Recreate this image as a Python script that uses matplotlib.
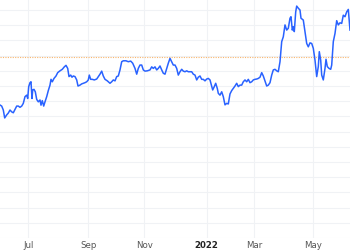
"""Price line, one year of daily closes (Jun 2021 - Jun 2022), TradingView-style minimal chart."""
import matplotlib
matplotlib.use("Agg")
import matplotlib.pyplot as plt

# x position of each sample (trading-day axis units) and its close
DAY = [0, 1.7, 3.3, 4.7, 6.7, 8.3, 10, 11.7, 13.3, 15, 16.7, 18.3, 20, 21.7, 23.3, 25, 26.7, 27.7,
       28.7, 30, 31, 32, 32.7, 34, 35.3, 36.7, 38.3, 40, 41, 42.3, 43.7, 45, 46.7, 48.3, 50, 51,
       52.3, 54, 56, 57.7, 60, 62.3, 64.3, 66, 67.7, 69, 70.7, 72, 73.3, 75, 76.7, 78, 80, 81.7,
       83.3, 85, 86.7, 88.3, 89.3, 90.7, 92.3, 94.3, 96.7, 98.3, 100, 101.7, 103.3, 105, 107.3,
       110, 111.7, 113.3, 115, 116.7, 118.3, 120, 121.7, 123.3, 126, 128.3, 130.7, 132.7, 135,
       136.7, 138.3, 140, 141.7, 143.3, 145, 147.3, 150, 151.7, 153.3, 155, 156.7, 158.3, 160,
       161.7, 163.3, 165, 166.7, 168.3, 170, 171.7, 173.3, 175, 176.7, 178.3, 180, 181.7, 183.3,
       185, 186.7, 188.3, 190, 191.7, 193.3, 195, 196.7, 198.3, 200, 201.7, 203.3, 205, 206.7,
       208.3, 210, 211.7, 212.7, 214, 215.7, 217.3, 218.3, 220, 221.7, 223.3, 225, 226.7, 228.3,
       230, 231.7, 233.3, 235, 236.7, 238.3, 240, 241.7, 243.3, 245, 246.7, 248.3, 250, 251.7,
       253.3, 255, 256.7, 258.3, 260, 261.7, 263.3, 265, 266.7, 268.3, 270, 271.7, 273.3, 275,
       276.7, 278.3, 280, 281.7, 283.3, 285, 286.7, 288.3, 290, 291, 292.3, 293.3, 294.3, 295.7,
       296.7, 298.3, 300, 301, 303.3, 305, 306.7, 308.3, 310, 311.7, 313.3, 315, 316.7, 318.3,
       319.3, 320.7, 321.7, 323.3, 325, 326, 327.3, 329, 330.7, 331.7, 333.3, 335, 336.7, 338.3,
       340, 341.7, 343.3, 345, 346.7, 348.3, 350]
CLOSE = [143.75, 143.4, 142.1, 139.5, 140.5, 141.1, 142.1, 141.5, 141.2, 142.3, 143.4, 143.4, 143.0,
         143.4, 144.3, 146.5, 147.0, 145.9, 149.8, 151.1, 151.4, 145.9, 148.7, 148.9, 148.1, 145.6,
         144.8, 145.4, 143.7, 145.2, 143.4, 144.8, 146.5, 148.5, 150.3, 152.2, 151.4, 152.5, 153.3,
         154.4, 155.0, 155.5, 156.3, 156.8, 155.8, 153.1, 153.6, 152.9, 153.3, 153.1, 152.0, 150.0,
         150.3, 150.7, 150.9, 151.1, 151.4, 152.0, 153.6, 152.2, 152.2, 152.0, 152.3, 153.1, 153.9,
         154.9, 153.3, 152.2, 151.7, 150.9, 151.4, 152.0, 151.7, 153.1, 153.3, 155.3, 158.0, 158.3,
         158.3, 158.0, 158.2, 157.5, 155.8, 153.9, 155.8, 156.9, 156.9, 155.3, 154.9, 155.0, 155.3,
         156.3, 155.8, 156.3, 155.3, 155.8, 156.6, 155.3, 154.2, 153.9, 155.8, 157.5, 159.1, 158.0,
         156.9, 156.9, 155.8, 153.6, 154.7, 155.5, 154.9, 154.7, 155.0, 154.7, 154.7, 154.7, 153.9,
         153.6, 152.0, 152.9, 153.3, 152.2, 152.2, 151.7, 152.3, 152.5, 152.0, 150.0, 148.7, 149.6,
         150.9, 149.2, 147.6, 147.0, 148.1, 146.5, 143.8, 144.3, 144.1, 147.4, 148.5, 149.2, 150.0,
         150.9, 149.8, 150.3, 150.3, 151.4, 152.0, 151.4, 152.2, 151.1, 151.4, 152.0, 152.2, 152.3,
         152.5, 152.9, 154.4, 153.3, 151.7, 150.0, 150.3, 151.1, 153.6, 155.3, 155.5, 155.0, 154.7,
         158.0, 164.6, 166.2, 170.1, 168.4, 169.0, 172.3, 172.8, 168.4, 169.5, 167.9, 174.4, 176.3,
         175.6, 175.0, 172.3, 171.7, 167.9, 164.0, 162.9, 164.2, 164.0, 162.4, 158.5, 153.1, 156.4,
         161.3, 158.5, 153.6, 152.0, 155.8, 158.8, 156.4, 155.8, 155.5, 156.9, 164.6, 167.3, 171.5,
         170.1, 170.8, 170.6, 173.3, 172.8, 174.4, 175.2, 168.4]
REF_LEVEL = 159.5          # dotted reference line
TICK_POS = [28.3, 88.3, 144.3, 206.7, 254.3, 313.3]
TICK_LABELS = ["Jul", "Sep", "Nov", "2022", "Mar", "May"]

fig = plt.figure(figsize=(3.5, 2.5), dpi=100)
ax = fig.add_axes([0, 0.048, 1, 0.952])

ax.plot(DAY, CLOSE, color="#2962ff", lw=1.1, solid_joinstyle="round", zorder=3)
ax.axhline(REF_LEVEL, color="#f9b56b", lw=0.8, ls=(0, (1, 1.2)), zorder=2)

ax.set_xlim(0, 350)
ax.set_ylim(100, 178.3)
ax.set_yticks(range(100, 180, 5))
ax.set_xticks(TICK_POS)
ax.set_xticklabels(TICK_LABELS)
ax.grid(True, color="#f0f2f5", lw=0.8)
ax.set_axisbelow(True)
ax.tick_params(axis="both", length=0, pad=2, labelsize=6.2, labelcolor="#555555")
ax.tick_params(axis="y", labelleft=False)
for lbl in ax.get_xticklabels():
    if lbl.get_text() == "2022":
        lbl.set_fontweight("bold")
        lbl.set_color("#222222")
for s in ax.spines.values():
    s.set_visible(False)

fig.savefig("out.png", dpi=100)
